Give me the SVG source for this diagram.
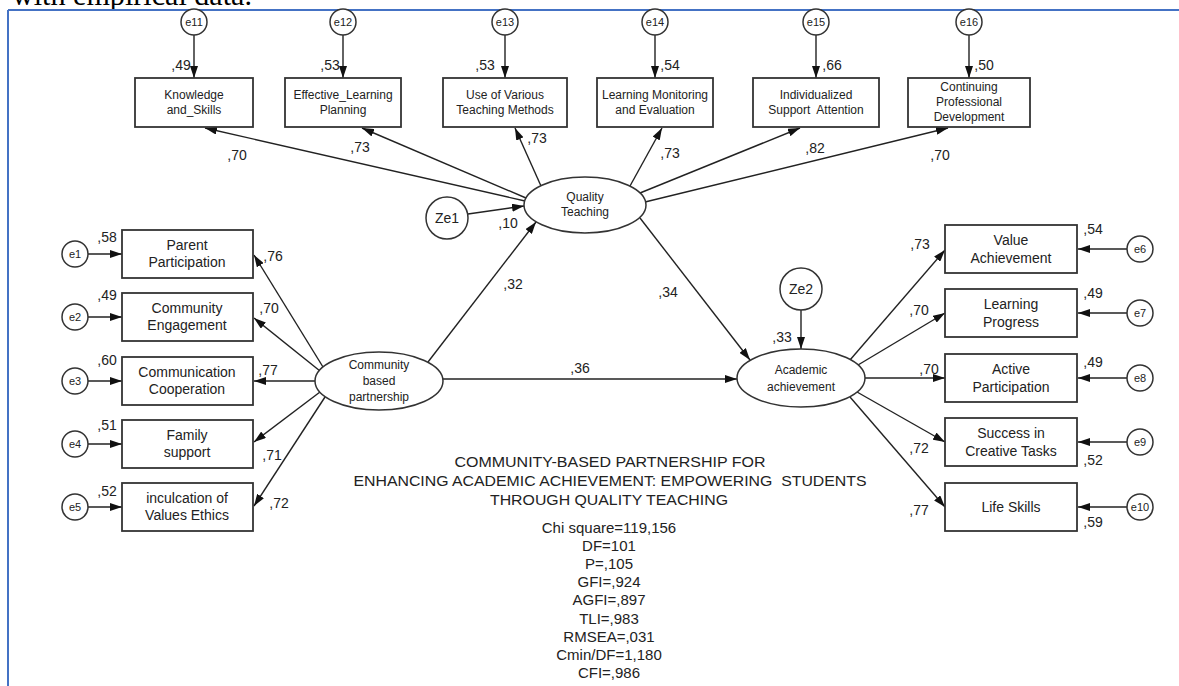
<svg xmlns="http://www.w3.org/2000/svg" width="1179" height="686" viewBox="0 0 1179 686">
<defs>
<marker id="ah" viewBox="0 0 12 8" refX="12" refY="4" markerWidth="12" markerHeight="8" orient="auto" markerUnits="userSpaceOnUse"><path d="M0,0 L12,4 L0,8 z" fill="#111"/></marker>
<style>
text{font-family:"Liberation Sans",Arial,sans-serif;fill:#222}
.box{fill:#fff;stroke:#333;stroke-width:1.8}
.lat{fill:#fff;stroke:#333;stroke-width:1.5}
.err{fill:#fff;stroke:#333;stroke-width:1.5}
.c line{stroke:#222;stroke-width:1.4;marker-end:url(#ah)}
.t12{font-size:12px;text-anchor:middle}
.t14{font-size:14px;text-anchor:middle}
.t10{font-size:11px;text-anchor:middle}
.w{font-size:14px;text-anchor:middle}
.ttl{font-size:14.5px;text-anchor:middle;white-space:pre}
.st{font-size:15px;text-anchor:middle}
</style>
</defs>
<rect width="1179" height="686" fill="#fff"/>
<text x="12" y="5" style="font-family:'Liberation Serif','Times New Roman',serif;font-size:30px;fill:#000" textLength="240" lengthAdjust="spacingAndGlyphs">with empirical data.</text>
<path d="M8,10 H1179 M8,10 V686" fill="none" stroke="#4472C4" stroke-width="2"/>

<g class="c" id="connectors">
<line x1="194" y1="35" x2="194" y2="78"/>
<line x1="343" y1="35" x2="343" y2="78"/>
<line x1="505" y1="35" x2="505" y2="78"/>
<line x1="655" y1="35" x2="655" y2="78"/>
<line x1="816" y1="35" x2="816" y2="78"/>
<line x1="969" y1="35" x2="969" y2="78"/>
<line x1="525" y1="201" x2="205" y2="128"/>
<line x1="526" y1="198" x2="362" y2="128"/>
<line x1="541" y1="186" x2="515" y2="128"/>
<line x1="630" y1="186" x2="662" y2="128"/>
<line x1="640" y1="193" x2="800" y2="128"/>
<line x1="645" y1="202" x2="948" y2="128"/>
<line x1="468" y1="214" x2="524" y2="206"/>
<line x1="428" y1="362" x2="536" y2="222"/>
<line x1="640" y1="218" x2="750" y2="360"/>
<line x1="443" y1="379" x2="737" y2="379"/>
<line x1="801" y1="310" x2="801" y2="349"/>
<line x1="88" y1="254" x2="122" y2="254"/>
<line x1="88" y1="317" x2="122" y2="317"/>
<line x1="88" y1="381" x2="122" y2="381"/>
<line x1="88" y1="444" x2="122" y2="444"/>
<line x1="88" y1="507" x2="122" y2="507"/>
<line x1="323" y1="367" x2="254" y2="255"/>
<line x1="320" y1="371" x2="254" y2="318"/>
<line x1="315" y1="381" x2="254" y2="381"/>
<line x1="320" y1="392" x2="254" y2="442"/>
<line x1="325" y1="397" x2="254" y2="506"/>
<line x1="850" y1="360" x2="945" y2="250"/>
<line x1="858" y1="365" x2="945" y2="313"/>
<line x1="865" y1="378" x2="945" y2="378"/>
<line x1="857" y1="392" x2="945" y2="442"/>
<line x1="850" y1="397" x2="945" y2="507"/>
<line x1="1127" y1="249" x2="1078" y2="249"/>
<line x1="1127" y1="313" x2="1078" y2="313"/>
<line x1="1127" y1="378" x2="1078" y2="378"/>
<line x1="1127" y1="442" x2="1078" y2="442"/>
<line x1="1127" y1="507" x2="1078" y2="507"/>
</g>

<g id="coefficients" class="w">
<text x="181" y="70">,49</text>
<text x="330" y="70">,53</text>
<text x="485" y="70">,53</text>
<text x="670" y="70">,54</text>
<text x="832" y="70">,66</text>
<text x="984" y="70">,50</text>
<text x="237" y="160">,70</text>
<text x="360" y="152">,73</text>
<text x="537" y="143">,73</text>
<text x="670" y="158">,73</text>
<text x="815" y="153">,82</text>
<text x="940" y="160">,70</text>
<text x="508" y="228">,10</text>
<text x="513" y="289">,32</text>
<text x="668" y="297">,34</text>
<text x="580" y="373">,36</text>
<text x="782" y="342">,33</text>
<text x="107" y="242">,58</text>
<text x="107" y="300">,49</text>
<text x="107" y="365">,60</text>
<text x="107" y="430">,51</text>
<text x="107" y="496">,52</text>
<text x="273" y="261">,76</text>
<text x="269" y="313">,70</text>
<text x="268" y="375">,77</text>
<text x="272" y="460">,71</text>
<text x="279" y="508">,72</text>
<text x="920" y="249">,73</text>
<text x="919" y="315">,70</text>
<text x="929" y="374">,70</text>
<text x="919" y="453">,72</text>
<text x="919" y="515">,77</text>
<text x="1093" y="234">,54</text>
<text x="1093" y="298">,49</text>
<text x="1093" y="367">,49</text>
<text x="1093" y="465">,52</text>
<text x="1093" y="527">,59</text>
</g>

<g id="e11"><circle class="err" cx="194" cy="22" r="13"/><text class="t10" x="194" y="26">e11</text></g>
<g id="e12"><circle class="err" cx="343" cy="22" r="13"/><text class="t10" x="343" y="26">e12</text></g>
<g id="e13"><circle class="err" cx="505" cy="22" r="13"/><text class="t10" x="505" y="26">e13</text></g>
<g id="e14"><circle class="err" cx="655" cy="22" r="13"/><text class="t10" x="655" y="26">e14</text></g>
<g id="e15"><circle class="err" cx="816" cy="22" r="13"/><text class="t10" x="816" y="26">e15</text></g>
<g id="e16"><circle class="err" cx="969" cy="22" r="13"/><text class="t10" x="969" y="26">e16</text></g>

<g id="knowledge"><rect class="box" x="135" y="78" width="118" height="49"/><text class="t12" x="194" y="99">Knowledge</text><text class="t12" x="194" y="114">and_Skills</text></g>
<g id="effective"><rect class="box" x="285" y="78" width="116" height="49"/><text class="t12" x="343" y="99">Effective_Learning</text><text class="t12" x="343" y="114">Planning</text></g>
<g id="various"><rect class="box" x="443" y="78" width="124" height="49"/><text class="t12" x="505" y="99">Use of Various</text><text class="t12" x="505" y="114">Teaching Methods</text></g>
<g id="monitoring"><rect class="box" x="597" y="78" width="116" height="49"/><text class="t12" x="655" y="99">Learning Monitoring</text><text class="t12" x="655" y="114">and Evaluation</text></g>
<g id="individualized"><rect class="box" x="753" y="78" width="126" height="49"/><text class="t12" x="816" y="99">Individualized</text><text class="t12" x="816" y="114" style="white-space:pre">Support  Attention</text></g>
<g id="continuing"><rect class="box" x="908" y="78" width="122" height="49"/><text class="t12" x="969" y="91">Continuing</text><text class="t12" x="969" y="106">Professional</text><text class="t12" x="969" y="121">Development</text></g>

<g id="quality"><ellipse class="lat" cx="585" cy="205" rx="61" ry="28"/><text class="t12" x="585" y="201">Quality</text><text class="t12" x="585" y="216">Teaching</text></g>
<g id="ze1"><circle class="err" cx="447" cy="218" r="21"/><text class="t14" x="447" y="223">Ze1</text></g>
<g id="community"><ellipse class="lat" cx="379" cy="381" rx="64" ry="29"/><text class="t12" x="379" y="369">Community</text><text class="t12" x="379" y="385">based</text><text class="t12" x="379" y="401">partnership</text></g>
<g id="academic"><ellipse class="lat" cx="801" cy="378" rx="64" ry="29"/><text class="t12" x="801" y="374">Academic</text><text class="t12" x="801" y="391">achievement</text></g>
<g id="ze2"><circle class="err" cx="801" cy="289" r="21"/><text class="t14" x="801" y="294">Ze2</text></g>

<g id="e1"><circle class="err" cx="75" cy="254" r="13"/><text class="t10" x="75" y="258">e1</text></g>
<g id="e2"><circle class="err" cx="75" cy="317" r="13"/><text class="t10" x="75" y="321">e2</text></g>
<g id="e3"><circle class="err" cx="75" cy="381" r="13"/><text class="t10" x="75" y="385">e3</text></g>
<g id="e4"><circle class="err" cx="75" cy="444" r="13"/><text class="t10" x="75" y="448">e4</text></g>
<g id="e5"><circle class="err" cx="75" cy="507" r="13"/><text class="t10" x="75" y="511">e5</text></g>

<g id="parent"><rect class="box" x="122" y="230" width="131" height="48"/><text class="t14" x="187" y="250">Parent</text><text class="t14" x="187" y="267">Participation</text></g>
<g id="engagement"><rect class="box" x="122" y="293" width="131" height="48"/><text class="t14" x="187" y="313">Community</text><text class="t14" x="187" y="330">Engagement</text></g>
<g id="communication"><rect class="box" x="122" y="357" width="131" height="48"/><text class="t14" x="187" y="377">Communication</text><text class="t14" x="187" y="394">Cooperation</text></g>
<g id="family"><rect class="box" x="122" y="420" width="131" height="48"/><text class="t14" x="187" y="440">Family</text><text class="t14" x="187" y="457">support</text></g>
<g id="inculcation"><rect class="box" x="122" y="483" width="131" height="48"/><text class="t14" x="187" y="503">inculcation of</text><text class="t14" x="187" y="520">Values Ethics</text></g>

<g id="value"><rect class="box" x="945" y="225" width="132" height="48"/><text class="t14" x="1011" y="245">Value</text><text class="t14" x="1011" y="263">Achievement</text></g>
<g id="progress"><rect class="box" x="945" y="289" width="132" height="48"/><text class="t14" x="1011" y="309">Learning</text><text class="t14" x="1011" y="327">Progress</text></g>
<g id="active"><rect class="box" x="945" y="354" width="132" height="48"/><text class="t14" x="1011" y="374">Active</text><text class="t14" x="1011" y="392">Participation</text></g>
<g id="success"><rect class="box" x="945" y="418" width="132" height="48"/><text class="t14" x="1011" y="438">Success in</text><text class="t14" x="1011" y="456">Creative Tasks</text></g>
<g id="lifeskills"><rect class="box" x="945" y="483" width="132" height="48"/><text class="t14" x="1011" y="512">Life Skills</text></g>

<g id="e6"><circle class="err" cx="1140" cy="249" r="13"/><text class="t10" x="1140" y="253">e6</text></g>
<g id="e7"><circle class="err" cx="1140" cy="313" r="13"/><text class="t10" x="1140" y="317">e7</text></g>
<g id="e8"><circle class="err" cx="1140" cy="378" r="13"/><text class="t10" x="1140" y="382">e8</text></g>
<g id="e9"><circle class="err" cx="1140" cy="442" r="13"/><text class="t10" x="1140" y="446">e9</text></g>
<g id="e10"><circle class="err" cx="1140" cy="507" r="13"/><text class="t10" x="1140" y="511">e10</text></g>

<g id="title">
<text class="ttl" x="610" y="467" textLength="311" lengthAdjust="spacingAndGlyphs">COMMUNITY-BASED PARTNERSHIP FOR</text>
<text class="ttl" x="610" y="486" textLength="513" lengthAdjust="spacingAndGlyphs">ENHANCING ACADEMIC ACHIEVEMENT: EMPOWERING  STUDENTS</text>
<text class="ttl" x="609" y="505" textLength="238" lengthAdjust="spacingAndGlyphs">THROUGH QUALITY TEACHING</text>
</g>
<g id="stats" class="st">
<text x="609" y="533">Chi square=119,156</text>
<text x="609" y="551">DF=101</text>
<text x="609" y="569">P=,105</text>
<text x="609" y="587">GFI=,924</text>
<text x="609" y="605">AGFI=,897</text>
<text x="609" y="624">TLI=,983</text>
<text x="609" y="642">RMSEA=,031</text>
<text x="609" y="660">Cmin/DF=1,180</text>
<text x="609" y="678">CFI=,986</text>
</g>
</svg>
